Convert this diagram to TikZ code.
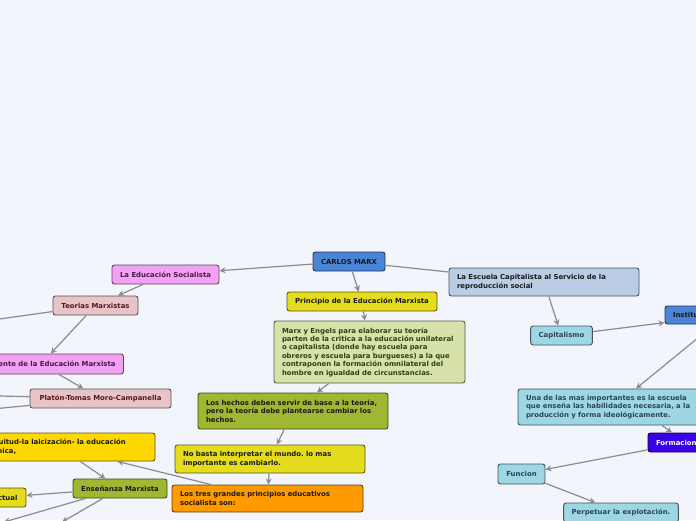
\documentclass[tikz,border=0pt]{standalone}
\usepackage{fontspec}
\setmainfont{DejaVu Sans}
\usetikzlibrary{arrows.meta}
\definecolor{bgcol}{HTML}{F3F5FD}
\definecolor{lkgray}{HTML}{8C8C8C}
\definecolor{marxblue}{HTML}{4A84D6}
\definecolor{yel}{HTML}{E6DC1E}
\definecolor{gold}{HTML}{FFD800}
\definecolor{paleolive}{HTML}{D6E2A9}
\definecolor{olive}{HTML}{9FB733}
\definecolor{orng}{HTML}{FF9A00}
\definecolor{pinkm}{HTML}{F2A2F2}
\definecolor{rose}{HTML}{E7C4C8}
\definecolor{steel}{HTML}{BACDE5}
\definecolor{cyanl}{HTML}{9ED6E4}
\definecolor{violet}{HTML}{3A00E6}
\definecolor{txgreen}{HTML}{2B4210}
\definecolor{txpurple}{HTML}{4B1550}
\definecolor{txmaroon}{HTML}{5A1520}
\definecolor{txslate}{HTML}{2A4652}

\begin{document}
\begin{tikzpicture}[x=1pt, y=-1pt, >={Stealth[length=6pt,width=6pt]},
	box/.style={draw=#1!40!black, fill=#1, line width=0.9pt, rounded corners=2.5pt, inner xsep=8pt, inner ysep=3pt, minimum height=19pt, font=\fontsize{6.9}{8.4}\selectfont\bfseries\frenchspacing, text=black!90},
	lk/.style={draw=lkgray, line width=1.2pt}]
	\fill[bgcol] (0,0) rectangle (696,520);
	\useasboundingbox (0,0) rectangle (696,520);
	\clip (0,0) rectangle (696,520);
	\node[box=marxblue, minimum width=72pt](CM) at (349,261.5){CARLOS MARX};
	\node[box=yel, minimum width=150pt](PE) at (362,301.5){Principio de la Educación Marxista};
	\node[box=paleolive, text=txgreen, text width=175pt, align=left, minimum height=62pt](ME) at (369.5,352){Marx y Engels para elaborar su teoría\\parten de la critica a la educación unilateral\\o capitalista (donde hay escuela para\\obreros y escuela para burgueses) a la que\\contraponen la formación omnilateral del\\hombre en igualdad de circunstancias.};
	\node[box=olive, text width=174pt, align=left, minimum height=36pt](LH) at (293,411){Los hechos deben servir de base a la teoría,\\pero la teoría debe plantearse cambiar los\\hechos.};
	\node[box=yel, text width=174pt, align=left, minimum height=28pt](NB) at (270,459){No basta interpretar el mundo. lo mas\\importante es cambiarlo.};
	\node[box=orng, text width=175pt, align=left, minimum height=27pt](TP) at (267.5,498.5){Los tres grandes principios educativos\\socialista son:};
	\node[box=pinkm, text=txpurple, minimum width=107pt](SO) at (165.5,274.5){La Educación Socialista};
	\node[box=rose, text=txmaroon, minimum width=85pt](TM) at (95.5,305.5){Teorias Marxistas};
	\node[box=pinkm, text=txpurple, minimum height=20pt](AE) at (41,364){Antecedente de la Educación Marxista};
	\node[box=rose, text=txmaroon, minimum width=141pt](PT) at (100.5,398.5){Platón-Tomas Moro-Campanella};
	\node[box=gold, text width=176pt, align=left, minimum height=28pt](LG) at (59,447){La gratuitud-la laicización- la educación\\politécnica,};
	\node[box=olive, minimum width=94pt](EM) at (120,488.5){Enseñanza Marxista};
	\node[box=yel, minimum width=59pt](IN) at (-3.5,497.5){Intelectual};
	\node[box=steel, text width=174pt, align=left, minimum height=28pt](EC) at (544,282){La Escuela Capitalista al Servicio de la\\reproducción social};
	\node[box=cyanl, text=txslate, minimum width=61pt](CA) at (561.5,335.5){Capitalismo};
	\node[box=marxblue, text width=106pt, align=left, minimum height=18pt](IS) at (726,315){Institución};
	\node[box=cyanl, text=txslate, text width=220pt, align=left, minimum height=36pt](UI) at (636,407){Una de las mas importantes es la escuela\\que enseña las habilidades necesaria, a la\\producción y forma ideológicamente.};
	\node[box=violet, text=white, text width=60pt, align=left](FO) at (686,442.5){Formacion};
	\node[box=cyanl, text=txslate, minimum width=47pt, minimum height=20pt](FU) at (521.5,474){Funcion};
	\node[box=cyanl, text=txslate, minimum width=114pt](PX) at (621,512.5){Perpetuar la explotación.};
	\coordinate(c1) at (-100,333);
	\coordinate(c2) at (-80,394);
	\coordinate(c3) at (-80,416);
	\coordinate(c4) at (4,522);
	\coordinate(c5) at (62,522);
	\draw [lk, ->] (CM) -- (SO);
	\draw [lk, ->] (CM) -- (PE);
	\draw [lk] (CM) -- (EC);
	\draw [lk, ->] (PE) -- (ME);
	\draw [lk, ->] (ME) -- (LH);
	\draw [lk, ->] (LH) -- (NB);
	\draw [lk, ->] (NB) -- (TP);
	\draw [lk, ->] (TP) -- (LG);
	\draw [lk, ->] (SO) -- (TM);
	\draw [lk] (TM) -- (c1);
	\draw [lk, ->] (TM) -- (AE);
	\draw [lk, ->] (AE) -- (PT);
	\draw [lk] (PT) -- (c2);
	\draw [lk] (PT) -- (c3);
	\draw [lk, ->] (LG) -- (EM);
	\draw [lk, ->] (EM) -- (IN);
	\draw [lk, ->] (EM) -- (c4);
	\draw [lk, ->] (EM) -- (c5);
	\draw [lk, ->] (EC) -- (CA);
	\draw [lk, ->] (CA) -- (IS);
	\draw [lk, ->] (IS) -- (UI.north);
	\draw [lk, ->] (UI) -- (FO);
	\draw [lk, ->] (FO) -- (FU);
	\draw [lk, ->] (FU) -- (PX);
\end{tikzpicture}
\end{document}
